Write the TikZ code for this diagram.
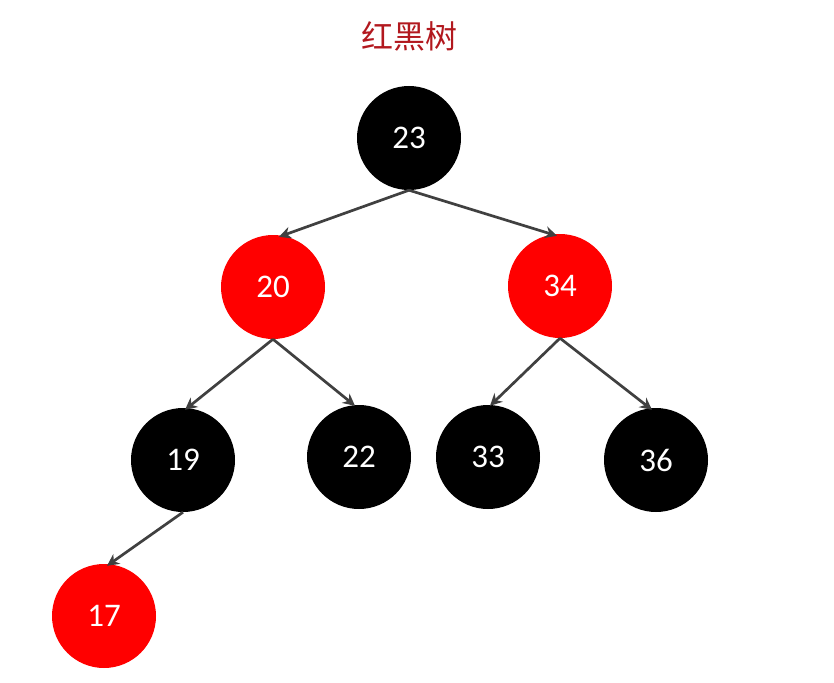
\documentclass[tikz,border=0pt]{standalone}
\usepackage{fontspec}
\setmainfont{Carlito}
\newfontfamily\cjk{Noto Sans CJK SC}
\usetikzlibrary{arrows.meta}
\definecolor{titlered}{RGB}{178,24,30}
\definecolor{edgegray}{RGB}{64,64,64}
\begin{document}
\begin{tikzpicture}[x=1pt,y=-1pt,
  blacknode/.style={circle,fill=black,minimum size=104pt,inner sep=0pt,text=white,font=\fontsize{33}{36}\selectfont},
  rednode/.style={circle,fill=red,minimum size=104pt,inner sep=0pt,text=white,font=\fontsize{33}{36}\selectfont},
  edge/.style={draw=edgegray,line width=2.7pt,-{Stealth[length=12pt,width=12pt]}}]
\useasboundingbox (0,0) rectangle (834,682);
\node[text=titlered,font=\cjk\fontsize{32}{36}\selectfont] (title) at (409,36) {红黑树};
\node[blacknode] (n23) at (409,138) {23};
\node[rednode] (n20) at (273,287) {20};
\node[rednode] (n34) at (560,286) {34};
\node[blacknode] (n19) at (183,460) {19};
\node[blacknode] (n22) at (359,457) {22};
\node[blacknode] (n33) at (488,457) {33};
\node[blacknode] (n36) at (656,460) {36};
\node[rednode] (n17) at (104,616) {17};
\draw[edge] (n23.south) -- ([xshift=6pt,yshift=-2pt]n20.north);
\draw[edge] (n23.south) -- ([xshift=-3pt,yshift=-2pt]n34.north);
\draw[edge] (n20.south) -- ([xshift=2pt,yshift=-2pt]n19.north);
\draw[edge] (n20.south) -- ([xshift=-4pt,yshift=-1pt]n22.north);
\draw[edge] (n34.south) -- ([xshift=2pt,yshift=-1pt]n33.north);
\draw[edge] (n34.south) -- ([xshift=-4pt,yshift=-2pt]n36.north);
\draw[edge] (n19.south) -- ([xshift=3pt,yshift=-2pt]n17.north);
\end{tikzpicture}
\end{document}
